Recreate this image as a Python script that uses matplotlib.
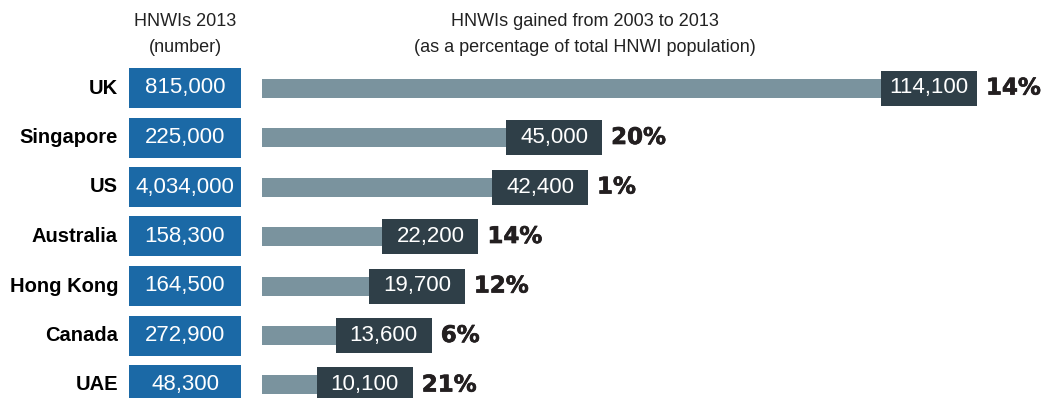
import matplotlib
matplotlib.use("Agg")
import matplotlib.pyplot as plt
import matplotlib.patheffects as pe

# --- data -------------------------------------------------------------
countries = ["UK", "Singapore", "US", "Australia", "Hong Kong", "Canada", "UAE"]
hnwis_2013 = [815000, 225000, 4034000, 158300, 164500, 272900, 48300]
hnwis_gained = [114100, 45000, 42400, 22200, 19700, 13600, 10100]
gained_pct = [14, 20, 1, 14, 12, 6, 21]

header_left = ["HNWIs 2013", "(number)"]
header_right = ["HNWIs gained from 2003 to 2013",
                "(as a percentage of total HNWI population)"]

# --- style ------------------------------------------------------------
BLUE = "#1b69a6"
BAR = "#7a939e"
DARK = "#2f3f48"
PCT = "#231f20"

W, H, DPI = 1042, 398, 100
ROW = 49.5            # row pitch in px
FIRST = 88            # centre of the first row in px
y_top = -FIRST / ROW
y_bot = (H - FIRST) / ROW

NUM_FONT = dict(family=["Liberation Sans", "DejaVu Sans"], fontsize=16)
NAME_FONT = dict(family=["Liberation Sans", "DejaVu Sans"],
                 fontsize=14.5, fontweight="bold")
HEAD_FONT = dict(family=["Liberation Sans", "DejaVu Sans"], fontsize=13, color="#222222")
PCT_FONT = dict(family=["DejaVu Sans"], fontsize=16.5, fontweight="bold", color=PCT,
                path_effects=[pe.withStroke(linewidth=0.5, foreground=PCT)])

fig = plt.figure(figsize=(W / DPI, H / DPI), dpi=DPI)
fig.patch.set_facecolor("white")

ypos = list(range(len(countries)))

# left panel: names and 2013 totals (x in px)
ax = fig.add_axes([0, 0, 1, 1])
ax.set_xlim(0, W)
ax.set_ylim(y_bot, y_top)
ax.axis("off")

box_h = 40 / ROW
ax.barh(ypos, 112, left=129, height=box_h, color=BLUE)
for y, name, n in zip(ypos, countries, hnwis_2013):
    ax.text(118, y, name, ha="right", va="center", color="black", **NAME_FONT)
    ax.text(185, y, f"{n:,}", ha="center", va="center", color="white", **NUM_FONT)

ax.text(185, (22 - FIRST) / ROW, header_left[0], ha="center", va="center", **HEAD_FONT)
ax.text(185, (48 - FIRST) / ROW, header_left[1], ha="center", va="center", **HEAD_FONT)
ax.text(585, (22 - FIRST) / ROW, header_right[0], ha="center", va="center", **HEAD_FONT)
ax.text(585, (48 - FIRST) / ROW, header_right[1], ha="center", va="center", **HEAD_FONT)

# right panel: HNWIs gained, bars in people
x0 = 262
px_per_person = 619 / 114100
bx = fig.add_axes([x0 / W, 0, (W - x0) / W, 1])
bx.set_xlim(0, (W - x0) / px_per_person)
bx.set_ylim(y_bot, y_top)
bx.axis("off")
bx.patch.set_alpha(0)

label_w = 96 / px_per_person      # dark value tag width
gap = 9 / px_per_person

bx.barh(ypos, hnwis_gained, height=19 / ROW, color=BAR)
bx.barh(ypos, label_w, left=hnwis_gained, height=35 / ROW, color=DARK)
for y, g, p in zip(ypos, hnwis_gained, gained_pct):
    bx.text(g + label_w / 2, y, f"{g:,}", ha="center", va="center",
            color="white", **NUM_FONT)
    bx.text(g + label_w + gap, y, f"{p}%", ha="left", va="center", **PCT_FONT)

fig.savefig("out.png", dpi=DPI, facecolor="white")
